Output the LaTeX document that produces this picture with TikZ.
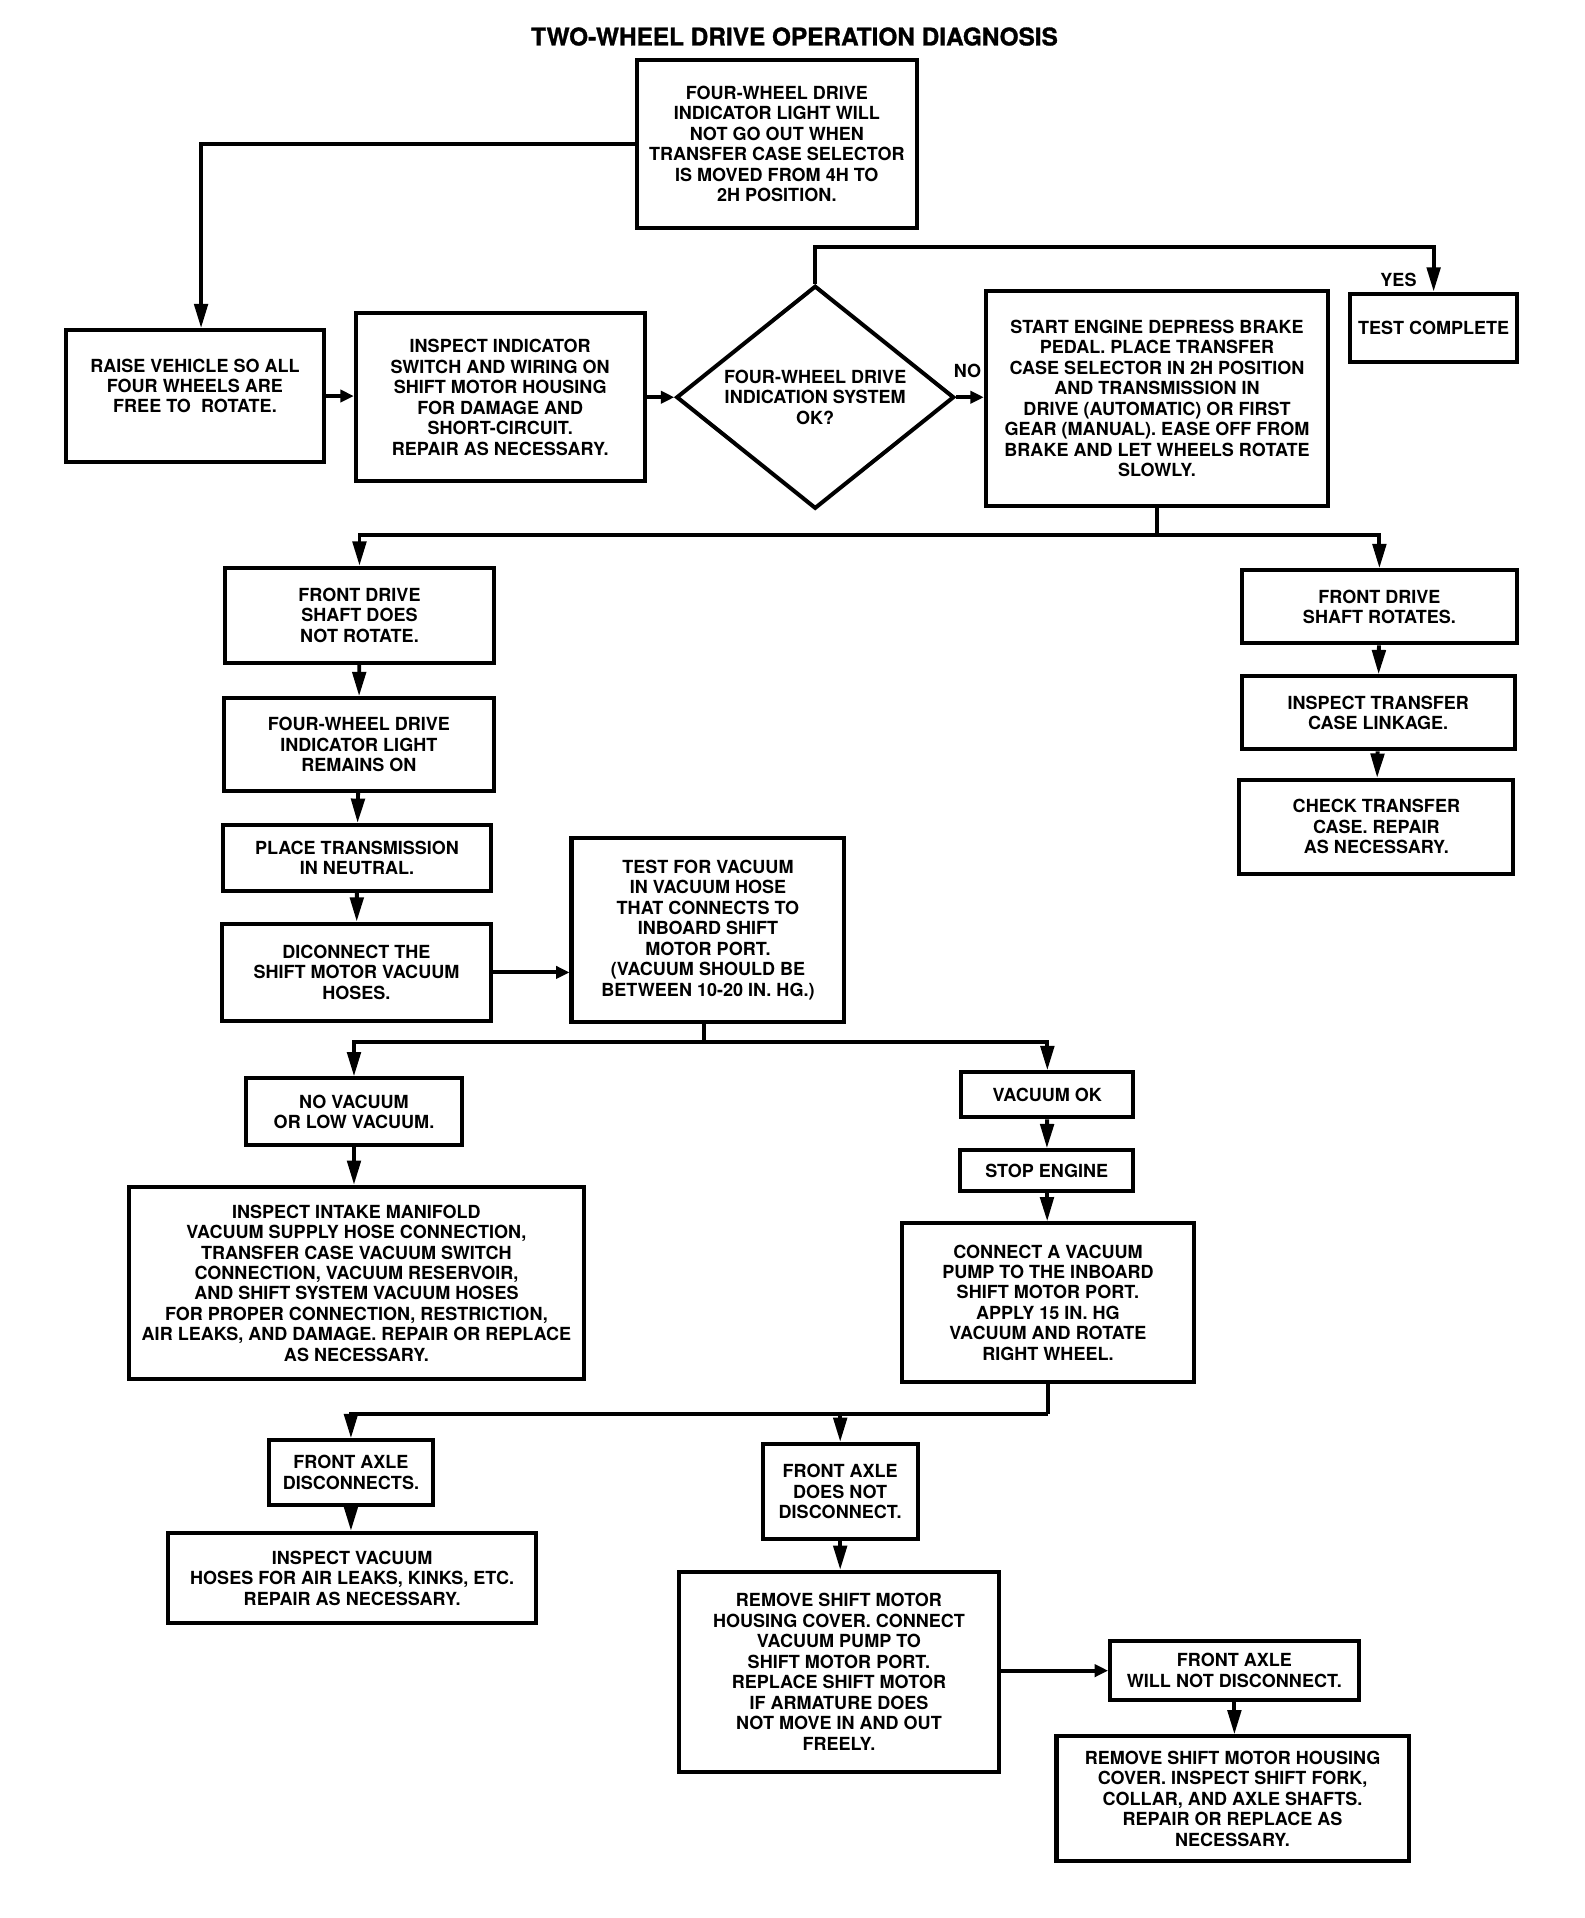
\documentclass[tikz,border=0pt]{standalone}
\usepackage{fontspec}
\setmainfont{TeX Gyre Heros}
\newfontfamily\ttlfont[BoldFeatures={FakeBold=1.2}]{TeX Gyre Heros}
\usetikzlibrary{arrows.meta,shapes.geometric}
\newcommand\bxfont{\fontsize{14.8}{16.8}\selectfont\bfseries}
\begin{document}
\begin{tikzpicture}[x=1pt,y=-1pt,
 box/.style={draw,line width=3.3pt,align=center,inner sep=0pt,font=\bxfont},
 link/.style={line width=3.2pt},
 arr/.style={link,-{Triangle[width=11pt,length=20pt]}},
 sarr/.style={link,-{Triangle[width=10pt,length=11pt]}},
 lbl/.style={font=\bxfont}]
\useasboundingbox (0,0) rectangle (1300,1574);
\node[font=\ttlfont\fontsize{20}{22}\selectfont\bfseries] (title) at (652,30) {TWO-WHEEL DRIVE OPERATION DIAGNOSIS};

\node[box,minimum width=230,minimum height=138] (top) at (637.5,118) {FOUR-WHEEL DRIVE\\INDICATOR LIGHT WILL\\NOT GO OUT WHEN\\TRANSFER CASE SELECTOR\\IS MOVED FROM 4H TO\\2H POSITION.};
\node[box,minimum width=212,minimum height=108] (raise) at (160,325) {RAISE VEHICLE SO ALL\\FOUR WHEELS ARE\\FREE TO~ ROTATE.\\\mbox{}};
\node[box,minimum width=237,minimum height=138] (insp) at (410.5,326) {INSPECT INDICATOR\\SWITCH AND WIRING ON\\SHIFT MOTOR HOUSING\\FOR DAMAGE AND\\SHORT-CIRCUIT.\\REPAIR AS NECESSARY.};
\node[box,shape=diamond,aspect=1.246,minimum width=228,minimum height=183] (dia) at (669,326) {FOUR-WHEEL DRIVE\\INDICATION SYSTEM\\OK?};
\node[box,minimum width=137,minimum height=56] (testc) at (1176.5,269) {TEST COMPLETE};
\node[box,minimum width=281,minimum height=177] (start) at (949.5,327) {START ENGINE DEPRESS BRAKE\\PEDAL. PLACE TRANSFER\\CASE SELECTOR IN 2H POSITION\\AND TRANSMISSION IN\\DRIVE (AUTOMATIC) OR FIRST\\GEAR (MANUAL). EASE OFF FROM\\BRAKE AND LET WHEELS ROTATE\\SLOWLY.};

\node[box,minimum width=220,minimum height=78] (fdnot) at (295,505) {FRONT DRIVE\\SHAFT DOES\\NOT ROTATE.};
\node[box,minimum width=221,minimum height=76] (fwdon) at (294.5,611) {FOUR-WHEEL DRIVE\\INDICATOR LIGHT\\REMAINS ON};
\node[box,minimum width=220,minimum height=54] (place) at (293,704) {PLACE TRANSMISSION\\IN NEUTRAL.};
\node[box,minimum width=221,minimum height=80] (disc) at (292.5,798) {DICONNECT THE\\SHIFT MOTOR VACUUM\\HOSES.};
\node[box,minimum width=224,minimum height=151] (testvac) at (581,763) {TEST FOR VACUUM\\IN VACUUM HOSE\\THAT CONNECTS TO\\INBOARD SHIFT\\MOTOR PORT.\\(VACUUM SHOULD BE\\BETWEEN 10-20 IN. HG.)};

\node[box,minimum width=226,minimum height=60] (fdrot) at (1132,498) {FRONT DRIVE\\SHAFT ROTATES.};
\node[box,minimum width=224,minimum height=60] (insptc) at (1131,585) {INSPECT TRANSFER\\CASE LINKAGE.};
\node[box,minimum width=225,minimum height=77] (checktc) at (1129.5,678.5) {CHECK TRANSFER\\CASE. REPAIR\\AS NECESSARY.};

\node[box,minimum width=177,minimum height=55] (novac) at (290.5,912.5) {NO VACUUM\\OR LOW VACUUM.};
\node[box,minimum width=373,minimum height=158] (intake) at (292.5,1053) {INSPECT INTAKE MANIFOLD\\VACUUM SUPPLY HOSE CONNECTION,\\TRANSFER CASE VACUUM SWITCH\\CONNECTION, VACUUM RESERVOIR,\\AND SHIFT SYSTEM VACUUM HOSES\\FOR PROPER CONNECTION, RESTRICTION,\\AIR LEAKS, AND DAMAGE. REPAIR OR REPLACE\\AS NECESSARY.};
\node[box,minimum width=141,minimum height=37] (vacok) at (859.5,898.5) {VACUUM OK};
\node[box,minimum width=142,minimum height=33] (stop) at (859,960.5) {STOP ENGINE};
\node[box,minimum width=240,minimum height=130] (connect) at (860,1069) {CONNECT A VACUUM\\PUMP TO THE INBOARD\\SHIFT MOTOR PORT.\\APPLY 15 IN. HG\\VACUUM AND ROTATE\\RIGHT WHEEL.};

\node[box,minimum width=134,minimum height=53] (fadisc) at (288,1208.5) {FRONT AXLE\\DISCONNECTS.};
\node[box,minimum width=302,minimum height=74] (inspvh) at (289,1295) {INSPECT VACUUM\\HOSES FOR AIR LEAKS, KINKS, ETC.\\REPAIR AS NECESSARY.};
\node[box,minimum width=127,minimum height=78] (fanot) at (689.5,1224) {FRONT AXLE\\DOES NOT\\DISCONNECT.};
\node[box,minimum width=263,minimum height=164] (remove) at (688.5,1372) {REMOVE SHIFT MOTOR\\HOUSING COVER. CONNECT\\VACUUM PUMP TO\\SHIFT MOTOR PORT.\\REPLACE SHIFT MOTOR\\IF ARMATURE DOES\\NOT MOVE IN AND OUT\\FREELY.};
\node[box,minimum width=204,minimum height=48] (fawill) at (1013,1371) {FRONT AXLE\\WILL NOT DISCONNECT.};
\node[box,minimum width=289,minimum height=102] (final) at (1011.5,1476) {REMOVE SHIFT MOTOR HOUSING\\COVER. INSPECT SHIFT FORK,\\COLLAR, AND AXLE SHAFTS.\\REPAIR OR REPLACE AS\\NECESSARY.};

% connectors
\draw[arr] (top.west) -| ([xshift=5pt]raise.north);
\draw[sarr] (raise.east) -- (raise.east -| insp.west);
\draw[sarr] (insp.east) -- (insp.east -| dia.west);
\draw[sarr] (dia.east) -- (dia.east -| start.west);
\draw[arr] (dia.north) -- ++(0,-30) -| (testc.north);
\node[lbl,anchor=east] (yes) at (1166,230) {YES};
\node[lbl] (no) at (794,304) {NO};

\draw[link] (start.south) -- ++(0,22) coordinate (b1);
\draw[arr] (b1) -| (fdnot.north);
\draw[arr] (b1) -| (fdrot.north);
\draw[arr] (fdnot) -- (fwdon);
\draw[arr] (fwdon) -- (place);
\draw[arr] (place) -- (disc);
\draw[sarr] (disc.east) -- (disc.east -| testvac.west);
\draw[arr] (fdrot) -- (insptc);
\draw[arr] (insptc) -- (checktc);

\draw[link] ([xshift=-3pt]testvac.south) -- ++(0,15) coordinate (b2);
\draw[arr] (b2) -| (novac.north);
\draw[arr] (b2) -| (vacok.north);
\draw[arr] (novac) -- (novac |- intake.north);
\draw[arr] (vacok) -- (stop);
\draw[arr] (stop) -- (connect);

\draw[link] (connect.south) -- ++(0,25) coordinate (b3);
\draw[arr] (b3) -| (fadisc.north);
\draw[arr] (b3) -| (fanot.north);
\draw[arr] (fadisc) -- (fadisc |- inspvh.north);
\draw[arr] (fanot) -- (fanot |- remove.north);
\draw[sarr] (remove.east |- fawill.west) -- (fawill.west);
\draw[arr] (fawill) -- (fawill |- final.north);
\end{tikzpicture}
\end{document}
